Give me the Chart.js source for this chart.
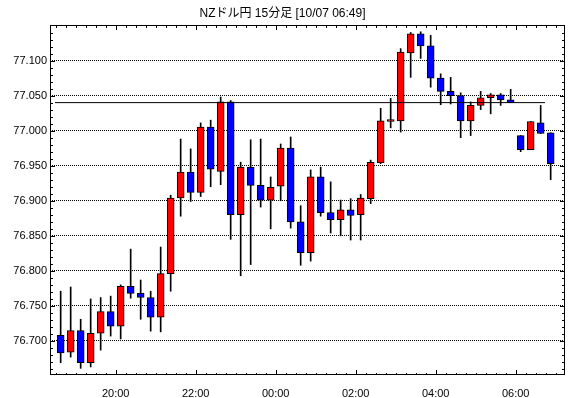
<!DOCTYPE html>
<html>
<head>
<meta charset="utf-8">
<script src="https://cdn.jsdelivr.net/npm/chart.js@4/dist/chart.umd.min.js"></script>
<style>
  html, body { margin: 0; padding: 0; background: #fff; }
  canvas { display: block; }
</style>
</head>
<body>
<canvas id="chart" width="570" height="398"></canvas>
<script>
// candle start times (15 min)
const times = ['18:30','18:45','19:00','19:15','19:30','19:45','20:00','20:15','20:30','20:45',
  '21:00','21:15','21:30','21:45','22:00','22:15','22:30','22:45','23:00','23:15',
  '23:30','23:45','00:00','00:15','00:30','00:45','01:00','01:15','01:30','01:45',
  '02:00','02:15','02:30','02:45','03:00','03:15','03:30','03:45','04:00','04:15',
  '04:30','04:45','05:00','05:15','05:30','05:45','06:00','06:15','06:30','06:45'];

const open_vals = [76.708,76.684,76.715,76.669,76.711,76.742,76.721,76.778,76.768,76.762,
  76.734,76.796,76.904,76.941,76.912,77.005,76.942,77.041,76.880,76.948,
  76.922,76.901,76.921,76.975,76.870,76.826,76.934,76.883,76.873,76.887,
  76.880,76.903,76.954,77.013,77.014,77.111,77.138,77.121,77.075,77.056,
  77.050,77.014,77.036,77.047,77.051,77.044,76.993,76.973,77.011,76.997];
const high_vals = [76.771,76.777,76.731,76.760,76.762,76.764,76.780,76.831,76.787,76.771,
  76.834,76.908,76.988,76.974,77.011,77.015,77.048,77.043,76.955,76.987,
  76.988,76.934,76.981,76.991,76.893,76.944,76.948,76.927,76.901,76.903,
  76.909,76.958,77.032,77.046,77.117,77.140,77.141,77.136,77.081,77.076,
  77.054,77.041,77.056,77.053,77.053,77.059,76.993,77.013,77.036,76.997];
const low_vals = [76.669,76.677,76.661,76.663,76.687,76.707,76.703,76.761,76.731,76.714,
  76.713,76.771,76.878,76.899,76.906,76.920,76.923,76.845,76.793,76.809,
  76.891,76.860,76.900,76.861,76.808,76.814,76.878,76.854,76.850,76.844,
  76.844,76.896,76.953,77.004,76.998,77.076,77.103,77.062,77.037,77.038,
  76.990,76.993,77.030,77.024,77.036,77.040,76.970,76.973,76.996,76.930];
const close_vals = [76.683,76.715,76.669,76.711,76.742,76.721,76.778,76.768,76.762,76.734,
  76.796,76.904,76.941,76.912,77.005,76.945,77.041,76.880,76.948,76.922,
  76.901,76.919,76.975,76.870,76.826,76.934,76.883,76.873,76.887,76.879,
  76.904,76.955,77.014,77.015,77.112,77.138,77.121,77.075,77.056,77.050,
  77.014,77.036,77.047,77.051,77.044,77.040,76.973,77.013,76.996,76.953];

const yTicks = [76.70, 76.75, 76.80, 76.85, 76.90, 76.95, 77.00, 77.05, 77.10];
const xTickLabels = ['20:00','22:00','00:00','02:00','04:00','06:00'];

// horizontal reference line
const refLevel = 77.040;
const refSpan = ['18:29', '06:44'];

const titleText = 'NZドル円 15分足 [10/07 06:49]';

// minutes from 20:00 (night wraps to next day)
const toMin = (t) => {
  let [h, m] = t.split(':').map(Number);
  let v = h * 60 + m;
  if (h < 12) v += 1440;
  return v - 1200;
};

const bodies = times.map((t, i) => ({x: toMin(t) + 7.5, y: [open_vals[i], close_vals[i]]}));
const wicks = times.map((t, i) => ({x: toMin(t) + 7.5, y: [low_vals[i], high_vals[i]]}));
const bodyColors = times.map((t, i) => close_vals[i] >= open_vals[i] ? '#ff0000' : '#0000ff');

// frame + small inside ticks on all four sides
const frameTicks = {
  id: 'frameTicks',
  afterDatasetsDraw(chart) {
    const {ctx, chartArea: a, scales: {x, y}} = chart;
    ctx.save();
    ctx.strokeStyle = '#000';
    ctx.lineWidth = 1;
    ctx.strokeRect(a.left + 0.5, a.top + 0.5, a.right - a.left - 1, a.bottom - a.top - 1);
    ctx.beginPath();
    for (let k = Math.ceil(y.min * 100); k <= Math.floor(y.max * 100); k++) {
      const py = Math.round(y.getPixelForValue(k / 100)) + 0.5;
      const len = k % 5 === 0 ? 5 : 3;
      ctx.moveTo(a.left, py); ctx.lineTo(a.left + len, py);
      ctx.moveTo(a.right, py); ctx.lineTo(a.right - len, py);
    }
    for (let k = Math.ceil(x.min / 15); k <= Math.floor(x.max / 15); k++) {
      const px = Math.round(x.getPixelForValue(k * 15)) + 0.5;
      const major = k % 8 === 0;
      ctx.moveTo(px, a.bottom); ctx.lineTo(px, a.bottom - (major ? 5 : 2));
      ctx.moveTo(px, a.top); ctx.lineTo(px, a.top + (major ? 5 : 3));
    }
    ctx.stroke();
    ctx.restore();
  }
};

Chart.defaults.color = '#000';
Chart.defaults.font.family = '"Liberation Sans", Arial, sans-serif';
Chart.defaults.font.size = 11;

new Chart(document.getElementById('chart'), {
  type: 'bar',
  data: {
    datasets: [
      {
        type: 'line',
        data: refSpan.map(t => ({x: toMin(t), y: refLevel})),
        borderColor: '#000',
        borderWidth: 1,
        pointRadius: 0,
        order: 0
      },
      {
        data: bodies,
        backgroundColor: bodyColors,
        borderColor: '#000',
        borderWidth: 1,
        borderSkipped: false,
        barThickness: 7,
        minBarLength: 2,
        grouped: false,
        order: 1
      },
      {
        data: wicks,
        backgroundColor: '#000',
        borderWidth: 0,
        barThickness: 1,
        grouped: false,
        order: 2
      }
    ]
  },
  options: {
    responsive: false,
    animation: false,
    layout: { padding: { left: 0, right: 5, top: 0, bottom: 0 } },
    plugins: {
      legend: { display: false },
      tooltip: { enabled: false },
      title: {
        display: true,
        text: titleText,
        color: '#000',
        font: { size: 12, weight: 'normal', family: '"Liberation Sans", "Noto Sans CJK JP", sans-serif' },
        padding: { top: 6, bottom: 4.6 }
      }
    },
    scales: {
      x: {
        type: 'linear',
        offset: false,
        min: -98.5,
        max: 674,
        afterBuildTicks: s => { s.ticks = xTickLabels.map(l => ({value: toMin(l)})); },
        afterFit: s => { s.height = 23; },
        ticks: {
          callback: (v, i) => xTickLabels[i],
          padding: 4,
          maxRotation: 0,
          autoSkip: false
        },
        grid: { display: false, offset: false },
        border: { display: false }
      },
      y: {
        type: 'linear',
        min: 76.6515,
        max: 77.1507,
        afterBuildTicks: s => { s.ticks = yTicks.map(v => ({value: v})); },
        afterFit: s => { s.width = 50; },
        ticks: {
          callback: v => v.toFixed(3),
          padding: 3
        },
        grid: { color: '#000', lineWidth: 1, drawTicks: false },
        border: { display: false, dash: [1, 1] }
      }
    }
  },
  plugins: [frameTicks]
});
</script>
</body>
</html>
